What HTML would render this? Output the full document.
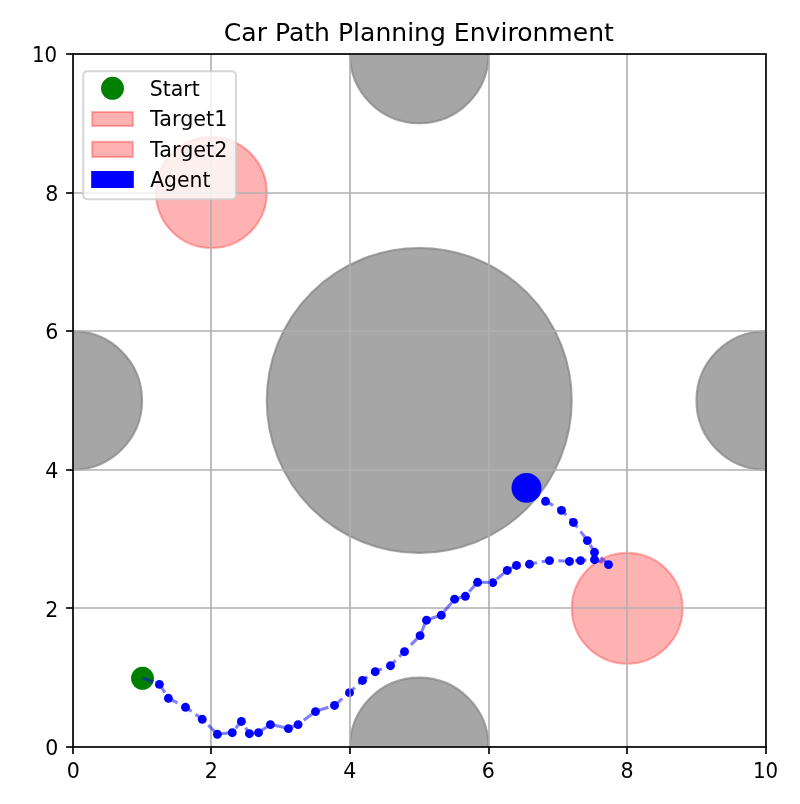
<!DOCTYPE html>
<html lang="en"><head><meta charset="utf-8"><title>Car Path Planning Environment</title>
<style>html,body{margin:0;padding:0;background:#fff}body{width:800px;height:804px;overflow:hidden}svg{display:block}text{font-family:"DejaVu Sans","Liberation Sans",sans-serif;fill:#000}</style>
</head><body>
<svg width="800" height="804" viewBox="0 0 800 804">
<rect width="800" height="804" fill="#fff"/>
<defs><clipPath id="ax"><rect x="73" y="54" width="693" height="693"/></clipPath></defs>
<g clip-path="url(#ax)">
<circle cx="419.25" cy="400.45" r="152.46" fill="#808080" fill-opacity="0.7"/>
<circle cx="419.25" cy="400.45" r="152.46" fill="none" stroke="#808080" stroke-opacity="0.7" stroke-width="2.083"/>
<circle cx="419.25" cy="53.95" r="69.30" fill="#808080" fill-opacity="0.7"/>
<circle cx="419.25" cy="53.95" r="69.30" fill="none" stroke="#808080" stroke-opacity="0.7" stroke-width="2.083"/>
<circle cx="419.25" cy="746.95" r="69.30" fill="#808080" fill-opacity="0.7"/>
<circle cx="419.25" cy="746.95" r="69.30" fill="none" stroke="#808080" stroke-opacity="0.7" stroke-width="2.083"/>
<circle cx="72.75" cy="400.45" r="69.30" fill="#808080" fill-opacity="0.7"/>
<circle cx="72.75" cy="400.45" r="69.30" fill="none" stroke="#808080" stroke-opacity="0.7" stroke-width="2.083"/>
<circle cx="765.75" cy="400.45" r="69.30" fill="#808080" fill-opacity="0.7"/>
<circle cx="765.75" cy="400.45" r="69.30" fill="none" stroke="#808080" stroke-opacity="0.7" stroke-width="2.083"/>
<circle cx="211.35" cy="192.55" r="55.44" fill="#ff0000" fill-opacity="0.3"/>
<circle cx="211.35" cy="192.55" r="55.44" fill="none" stroke="#ff0000" stroke-opacity="0.3" stroke-width="2.083"/>
<circle cx="627.15" cy="608.35" r="55.44" fill="#ff0000" fill-opacity="0.3"/>
<circle cx="627.15" cy="608.35" r="55.44" fill="none" stroke="#ff0000" stroke-opacity="0.3" stroke-width="2.083"/>
<circle cx="526.5" cy="487.9" r="14.95" fill="#0000ff"/>
<circle cx="159.40" cy="684.40" r="4.45" fill="#0000ff"/>
<circle cx="168.40" cy="698.30" r="4.45" fill="#0000ff"/>
<circle cx="185.50" cy="707.30" r="4.45" fill="#0000ff"/>
<circle cx="202.25" cy="719.30" r="4.45" fill="#0000ff"/>
<circle cx="217.40" cy="734.30" r="4.45" fill="#0000ff"/>
<circle cx="232.25" cy="732.70" r="4.45" fill="#0000ff"/>
<circle cx="241.40" cy="721.45" r="4.45" fill="#0000ff"/>
<circle cx="249.40" cy="733.70" r="4.45" fill="#0000ff"/>
<circle cx="258.50" cy="732.70" r="4.45" fill="#0000ff"/>
<circle cx="270.40" cy="724.60" r="4.45" fill="#0000ff"/>
<circle cx="288.40" cy="728.60" r="4.45" fill="#0000ff"/>
<circle cx="298.10" cy="724.60" r="4.45" fill="#0000ff"/>
<circle cx="315.50" cy="711.60" r="4.45" fill="#0000ff"/>
<circle cx="334.50" cy="705.45" r="4.45" fill="#0000ff"/>
<circle cx="349.50" cy="692.70" r="4.45" fill="#0000ff"/>
<circle cx="362.50" cy="680.45" r="4.45" fill="#0000ff"/>
<circle cx="375.25" cy="671.70" r="4.45" fill="#0000ff"/>
<circle cx="390.50" cy="665.70" r="4.45" fill="#0000ff"/>
<circle cx="404.50" cy="651.70" r="4.45" fill="#0000ff"/>
<circle cx="420.10" cy="635.60" r="4.45" fill="#0000ff"/>
<circle cx="426.50" cy="620.20" r="4.45" fill="#0000ff"/>
<circle cx="441.30" cy="615.20" r="4.45" fill="#0000ff"/>
<circle cx="454.60" cy="599.20" r="4.45" fill="#0000ff"/>
<circle cx="465.40" cy="596.30" r="4.45" fill="#0000ff"/>
<circle cx="477.60" cy="582.30" r="4.45" fill="#0000ff"/>
<circle cx="492.75" cy="582.70" r="4.45" fill="#0000ff"/>
<circle cx="507.25" cy="570.45" r="4.45" fill="#0000ff"/>
<circle cx="516.50" cy="565.45" r="4.45" fill="#0000ff"/>
<circle cx="529.50" cy="564.20" r="4.45" fill="#0000ff"/>
<circle cx="549.50" cy="560.60" r="4.45" fill="#0000ff"/>
<circle cx="569.50" cy="561.45" r="4.45" fill="#0000ff"/>
<circle cx="580.50" cy="560.60" r="4.45" fill="#0000ff"/>
<circle cx="594.50" cy="559.70" r="4.45" fill="#0000ff"/>
<circle cx="608.50" cy="564.60" r="4.45" fill="#0000ff"/>
<circle cx="594.50" cy="552.30" r="4.45" fill="#0000ff"/>
<circle cx="587.40" cy="540.60" r="4.45" fill="#0000ff"/>
<circle cx="573.40" cy="522.45" r="4.45" fill="#0000ff"/>
<circle cx="561.50" cy="510.40" r="4.45" fill="#0000ff"/>
<circle cx="545.50" cy="501.30" r="4.45" fill="#0000ff"/>
<line x1="73" y1="54" x2="73" y2="747" stroke="#b0b0b0" stroke-width="1.667"/>
<line x1="73" y1="747" x2="766" y2="747" stroke="#b0b0b0" stroke-width="1.667"/>
<line x1="211" y1="54" x2="211" y2="747" stroke="#b0b0b0" stroke-width="1.667"/>
<line x1="73" y1="608" x2="766" y2="608" stroke="#b0b0b0" stroke-width="1.667"/>
<line x1="350" y1="54" x2="350" y2="747" stroke="#b0b0b0" stroke-width="1.667"/>
<line x1="73" y1="470" x2="766" y2="470" stroke="#b0b0b0" stroke-width="1.667"/>
<line x1="489" y1="54" x2="489" y2="747" stroke="#b0b0b0" stroke-width="1.667"/>
<line x1="73" y1="331" x2="766" y2="331" stroke="#b0b0b0" stroke-width="1.667"/>
<line x1="627" y1="54" x2="627" y2="747" stroke="#b0b0b0" stroke-width="1.667"/>
<line x1="73" y1="193" x2="766" y2="193" stroke="#b0b0b0" stroke-width="1.667"/>
<line x1="766" y1="54" x2="766" y2="747" stroke="#b0b0b0" stroke-width="1.667"/>
<line x1="73" y1="54" x2="766" y2="54" stroke="#b0b0b0" stroke-width="1.667"/>
<circle cx="142.5" cy="678.3" r="11.45" fill="#008000"/>
<polyline fill="none" stroke="#0000ff" stroke-opacity="0.5" stroke-width="3.125" stroke-dasharray="11.61 5.02" points="142.40,677.90 159.40,684.20 168.40,698.10 185.50,707.10 202.25,719.10 217.40,734.10 232.25,732.50 241.40,721.25 249.40,733.50 258.50,732.50 270.40,724.40 288.40,728.40 298.10,724.40 315.50,711.40 334.50,705.25 349.50,692.50 362.50,680.25 375.25,671.50 390.50,665.50 404.50,651.50 420.10,635.40 426.50,620.00 441.30,615.00 454.60,599.00 465.40,596.10 477.60,582.10 492.75,582.50 507.25,570.25 516.50,565.25 529.50,564.00 549.50,560.40 569.50,561.25 580.50,560.40 594.50,559.50 608.50,564.40 594.50,552.10 587.40,540.40 573.40,522.25 561.50,510.20 545.50,501.10 526.50,487.50"/>
</g>
<rect x="73" y="54" width="693" height="693" fill="none" stroke="#000" stroke-width="1.667"/>
<line x1="73" y1="747" x2="73" y2="753.9" stroke="#000" stroke-width="1.667"/>
<line x1="66.1" y1="747" x2="73" y2="747" stroke="#000" stroke-width="1.667"/>
<text x="66.85" y="778" font-size="22" textLength="13.1" lengthAdjust="spacingAndGlyphs">0</text>
<text x="45.20" y="755.10" font-size="22" textLength="13.1" lengthAdjust="spacingAndGlyphs">0</text>
<line x1="211" y1="747" x2="211" y2="753.9" stroke="#000" stroke-width="1.667"/>
<line x1="66.1" y1="608" x2="73" y2="608" stroke="#000" stroke-width="1.667"/>
<text x="204.65" y="778" font-size="22" textLength="13.1" lengthAdjust="spacingAndGlyphs">2</text>
<text x="45.20" y="616.50" font-size="22" textLength="13.1" lengthAdjust="spacingAndGlyphs">2</text>
<line x1="350" y1="747" x2="350" y2="753.9" stroke="#000" stroke-width="1.667"/>
<line x1="66.1" y1="470" x2="73" y2="470" stroke="#000" stroke-width="1.667"/>
<text x="343.25" y="778" font-size="22" textLength="13.1" lengthAdjust="spacingAndGlyphs">4</text>
<text x="45.20" y="477.90" font-size="22" textLength="13.1" lengthAdjust="spacingAndGlyphs">4</text>
<line x1="489" y1="747" x2="489" y2="753.9" stroke="#000" stroke-width="1.667"/>
<line x1="66.1" y1="331" x2="73" y2="331" stroke="#000" stroke-width="1.667"/>
<text x="481.85" y="778" font-size="22" textLength="13.1" lengthAdjust="spacingAndGlyphs">6</text>
<text x="45.20" y="339.30" font-size="22" textLength="13.1" lengthAdjust="spacingAndGlyphs">6</text>
<line x1="627" y1="747" x2="627" y2="753.9" stroke="#000" stroke-width="1.667"/>
<line x1="66.1" y1="193" x2="73" y2="193" stroke="#000" stroke-width="1.667"/>
<text x="620.45" y="778" font-size="22" textLength="13.1" lengthAdjust="spacingAndGlyphs">8</text>
<text x="45.20" y="200.70" font-size="22" textLength="13.1" lengthAdjust="spacingAndGlyphs">8</text>
<line x1="766" y1="747" x2="766" y2="753.9" stroke="#000" stroke-width="1.667"/>
<line x1="66.1" y1="54" x2="73" y2="54" stroke="#000" stroke-width="1.667"/>
<text x="752.90" y="778" font-size="22" textLength="25.2" lengthAdjust="spacingAndGlyphs">10</text>
<text x="32.00" y="62.10" font-size="22" textLength="25.2" lengthAdjust="spacingAndGlyphs">10</text>
<text x="223.8" y="41" font-size="25" textLength="390.1" lengthAdjust="spacingAndGlyphs">Car Path Planning Environment</text>
<rect x="83.25" y="71.25" width="152.65" height="127.9" rx="4" ry="4" fill="#fff" fill-opacity="0.8" stroke="#ccc" stroke-opacity="0.8" stroke-width="2"/>
<circle cx="112.5" cy="88.3" r="11.45" fill="#008000"/>
<rect x="92.2" y="112" width="40.6" height="14" fill="#ff0000" fill-opacity="0.3"/>
<rect x="92.2" y="112" width="40.6" height="14" fill="none" stroke="#ff0000" stroke-opacity="0.3" stroke-width="2.083"/>
<rect x="92.2" y="141.8" width="40.6" height="15.2" fill="#ff0000" fill-opacity="0.3"/>
<rect x="92.2" y="141.8" width="40.6" height="15.2" fill="none" stroke="#ff0000" stroke-opacity="0.3" stroke-width="2.083"/>
<rect x="91.2" y="171" width="42.6" height="17" fill="#0000ff"/>
<text x="149.8" y="96" font-size="22" textLength="50" lengthAdjust="spacingAndGlyphs">Start</text>
<text x="150.1" y="125.8" font-size="22" textLength="77.3" lengthAdjust="spacingAndGlyphs">Target1</text>
<text x="150.1" y="156.7" font-size="22" textLength="77.3" lengthAdjust="spacingAndGlyphs">Target2</text>
<text x="150.2" y="187.2" font-size="22" textLength="60.2" lengthAdjust="spacingAndGlyphs">Agent</text>
</svg>
</body></html>
